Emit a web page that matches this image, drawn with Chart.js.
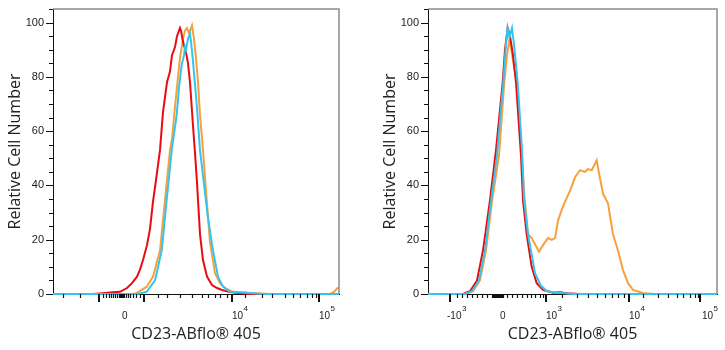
<!DOCTYPE html>
<html>
<head>
<meta charset="utf-8">
<script src="https://cdn.jsdelivr.net/npm/chart.js@4/dist/chart.umd.min.js"></script>
<style>
  html, body { margin: 0; padding: 0; background: #fff; }
  #wrap { position: relative; width: 725px; height: 350px; }
  .box { position: absolute; top: 0; height: 350px; }
</style>
</head>
<body>
<div id="wrap">
  <div class="box" style="left:0;width:345px"><canvas id="left"></canvas></div>
  <div class="box" style="left:375px;width:350px"><canvas id="right"></canvas></div>
</div>
<script>
// x values are display channels along the biexponential axis

// left panel
const leftRedX = [0, 40, 50, 60, 67, 74, 79, 84, 87, 90, 94, 97, 100, 103, 107, 110, 114, 117, 119, 122, 124, 126, 127, 128, 130, 133, 135, 137, 140, 142, 144, 147, 150, 154, 159, 164, 169, 177, 187, 197, 286];
const leftRedY = [0, 0, 0.3, 0.6, 0.8, 2.2, 4, 6.4, 9, 12.5, 18, 24, 34, 42, 53, 67, 78, 82, 88, 91, 95, 97, 98, 97, 93, 89, 85, 78, 62, 52, 41, 22, 12.5, 6.4, 3.3, 2.2, 1.5, 0.7, 0.3, 0, 0];
const leftCyanX = [0, 85, 93.7, 102, 108.7, 113.7, 118.7, 123.7, 126, 128.7, 131, 132, 133, 135, 137, 138, 139.7, 143.7, 147, 155, 160, 165, 170, 177, 200, 210, 286];
const leftCyanY = [0, 0, 0.8, 5, 16, 34.7, 53, 66, 76, 84.5, 88, 91, 90, 94, 96, 93, 87, 70, 53, 28, 16, 6.4, 2.7, 0.8, 0.3, 0, 0];
const leftOrangeX = [0, 80, 83.7, 93.7, 100, 107, 112, 117, 119, 122, 125, 127, 130, 132, 134, 136, 138, 139, 141, 143, 145, 147, 150, 153.7, 157, 162, 167, 172, 180, 194, 207, 217, 277, 281, 284, 286];
const leftOrangeY = [0, 0, 0.3, 2.7, 6.4, 16, 34.7, 53, 57, 69, 80, 87, 94, 97, 98, 96, 98, 99, 94, 87, 78, 66, 53, 34.7, 19, 7.7, 4, 2.2, 0.8, 0.5, 0.2, 0, 0, 0.8, 2, 2.5];
// tick label anchors (label starts here), base text and exponent
const leftTickVals = [69, 179, 266];
const leftTickBase = ['0', '10', '10'];
const leftTickExp = ['', '4', '5'];
const leftMajor = [46, 91, 179, 266];
const leftMinor = [10, 27, 50, 53, 56, 58, 60, 62, 64, 66, 67, 68, 69, 70, 71, 73, 75, 77, 80, 83, 87,
  105, 114, 127, 139, 149, 155, 162, 167, 174, 192, 209, 219, 232, 240, 247, 254, 259, 263];

// right panel
const rightRedX = [0, 35, 42, 49, 55, 62, 68, 74.7, 77, 79.7, 82, 85, 88, 93, 95, 98.7, 103.7, 108.7, 115, 125, 132, 139, 152, 289];
const rightRedY = [0, 0, 1, 5, 16, 34.6, 53, 78, 90, 98, 95, 88, 78, 51, 34.6, 22, 10, 4, 1.5, 0.5, 0.6, 0.3, 0, 0];
const rightCyanX = [0, 37, 44, 51, 57, 63, 69, 75.3, 78, 79.5, 81.5, 84, 86, 89.7, 94, 96, 100, 107, 113, 119, 130, 145, 289];
const rightCyanY = [0, 0, 1, 5, 16, 34, 51, 78, 92, 98, 94.5, 98, 92, 78, 53, 35, 22, 7.7, 3, 1, 0.5, 0, 0];
const rightOrangeX = [0, 38, 45, 52, 58, 64, 71, 76.3, 79, 81.3, 83, 85, 88.7, 94, 96, 100, 103.7, 111, 115, 120, 123.7, 127, 130, 133.7, 137, 142, 147, 152, 157, 160, 163.7, 168.7, 171, 175, 180, 185, 190, 195, 200, 205, 215, 225, 289];
const rightOrangeY = [0, 0, 1, 5, 16, 34, 51, 78, 88, 93.4, 91, 86, 78, 51, 38, 22, 20.6, 15.6, 18, 20.6, 19.9, 20.6, 27, 31, 34, 38, 43, 45.6, 45, 46, 45.6, 49.3, 44.5, 37, 33.4, 22, 16, 8.8, 4, 1.5, 0.4, 0, 0];
const rightTickVals = [19, 72, 118, 201, 274];
const rightTickBase = ['-10', '0', '10', '10', '10'];
const rightTickExp = ['3', '', '3', '4', '5'];
const rightMajor = [22, 118, 201, 272];
const rightMinor = [29, 34, 39, 44, 49, 54, 59, 64, 65, 66, 67, 68, 69, 70, 71, 72, 73, 74, 75,
  79, 84, 89, 94, 99, 103, 107, 112, 115, 134, 149, 160, 169, 177, 184, 190, 196, 215, 230, 240, 249, 255, 262, 267, 270];

const yLabelVals = [0, 20, 40, 60, 80, 100];
const yMinor = [5, 10, 15, 25, 30, 35, 45, 50, 55, 65, 70, 75, 85, 90, 95, 105];

const RED = 'rgb(232, 12, 18)';
const CYAN = 'rgb(52, 196, 240)';
const ORANGE = 'rgb(248, 160, 62)';

function pts(xs, ys) {
  return xs.map((x, i) => ({ x: x, y: ys[i] }));
}

// frame, tick marks and exponent-style x labels, placed with the chart scales
const tickMarks = {
  id: 'tickMarks',
  afterDraw(chart, args, opts) {
    const { ctx, chartArea: a, scales: { x, y } } = chart;
    ctx.save();
    ctx.strokeStyle = '#8c8c8c';
    ctx.lineWidth = 1.5;
    ctx.beginPath();
    ctx.moveTo(a.left, a.top);
    ctx.lineTo(a.right, a.top);
    ctx.lineTo(a.right, a.bottom);
    ctx.stroke();

    ctx.strokeStyle = '#111';
    ctx.lineWidth = 1.2;
    ctx.beginPath();
    yLabelVals.forEach(v => {
      const py = Math.round(y.getPixelForValue(v)) + 0.5;
      ctx.moveTo(a.left, py); ctx.lineTo(a.left - 7, py);
    });
    yMinor.forEach(v => {
      const py = Math.round(y.getPixelForValue(v)) + 0.5;
      ctx.moveTo(a.left, py); ctx.lineTo(a.left - 4, py);
    });
    opts.minor.forEach(v => {
      const px = Math.round(x.getPixelForValue(v)) + 0.5;
      ctx.moveTo(px, a.bottom); ctx.lineTo(px, a.bottom + 4);
    });
    ctx.stroke();
    ctx.lineWidth = 2;
    ctx.beginPath();
    opts.major.forEach(v => {
      const px = Math.round(x.getPixelForValue(v));
      ctx.moveTo(px, a.bottom); ctx.lineTo(px, a.bottom + 8);
    });
    ctx.stroke();

    ctx.fillStyle = '#222';
    ctx.textAlign = 'left';
    ctx.textBaseline = 'middle';
    opts.labels.forEach((v, i) => {
      const px = x.getPixelForValue(v);
      ctx.font = '10px "Liberation Sans", Arial, sans-serif';
      ctx.fillText(opts.base[i], px, a.bottom + 22);
      const w = ctx.measureText(opts.base[i]).width;
      if (opts.exp[i]) {
        ctx.font = '8px "Liberation Sans", Arial, sans-serif';
        ctx.fillText(opts.exp[i], px + w + 0.5, a.bottom + 15);
      }
    });
    ctx.restore();
  }
};

function makeChart(id, series, xMax, labelVals, base, exp, major, minor, padRight) {
  const ctx = document.getElementById(id).getContext('2d');
  return new Chart(ctx, {
    type: 'line',
    data: {
      datasets: [
        { data: pts(series[0][0], series[0][1]), borderColor: CYAN },
        { data: pts(series[1][0], series[1][1]), borderColor: RED },
        { data: pts(series[2][0], series[2][1]), borderColor: ORANGE }
      ]
    },
    options: {
      responsive: true,
      maintainAspectRatio: false,
      animation: false,
      layout: { padding: { top: 9, right: padRight, left: 0, bottom: 0 } },
      elements: {
        point: { radius: 0 },
        line: { borderWidth: 2, tension: 0 }
      },
      datasets: { line: { clip: false } },
      plugins: {
        legend: { display: false },
        tooltip: { enabled: false },
        tickMarks: { major: major, minor: minor, labels: labelVals, base: base, exp: exp }
      },
      scales: {
        x: {
          type: 'linear',
          min: 0,
          max: xMax,
          afterFit: s => { s.height = 56; s.paddingLeft = 0; s.paddingRight = 0; },
          grid: { display: false, drawTicks: false },
          border: { display: true, color: '#111', width: 1 },
          ticks: { display: false },
          title: {
            display: true,
            text: 'CD23-ABflo® 405',
            color: '#222',
            font: { family: 'Open Sans', size: 16 },
            padding: { top: 0, bottom: 6 }
          }
        },
        y: {
          min: 0,
          max: 105,
          afterBuildTicks: s => { s.ticks = yLabelVals.map(v => ({ value: v })); },
          afterFit: s => { s.width = 53; s.paddingTop = 0; s.paddingBottom = 0; },
          grid: { display: false, drawTicks: false },
          border: { display: true, color: '#111', width: 1 },
          ticks: {
            padding: 9,
            color: '#222',
            font: { family: 'Liberation Sans', size: 11 }
          },
          title: {
            display: true,
            text: 'Relative Cell Number',
            color: '#222',
            font: { family: 'Open Sans', size: 16 },
            padding: { top: 6, bottom: 0 }
          }
        }
      }
    },
    plugins: [tickMarks]
  });
}

makeChart('left',
  [[leftCyanX, leftCyanY], [leftRedX, leftRedY], [leftOrangeX, leftOrangeY]],
  286, leftTickVals, leftTickBase, leftTickExp, leftMajor, leftMinor, 6);
makeChart('right',
  [[rightCyanX, rightCyanY], [rightRedX, rightRedY], [rightOrangeX, rightOrangeY]],
  289, rightTickVals, rightTickBase, rightTickExp, rightMajor, rightMinor, 8);
</script>
</body>
</html>
